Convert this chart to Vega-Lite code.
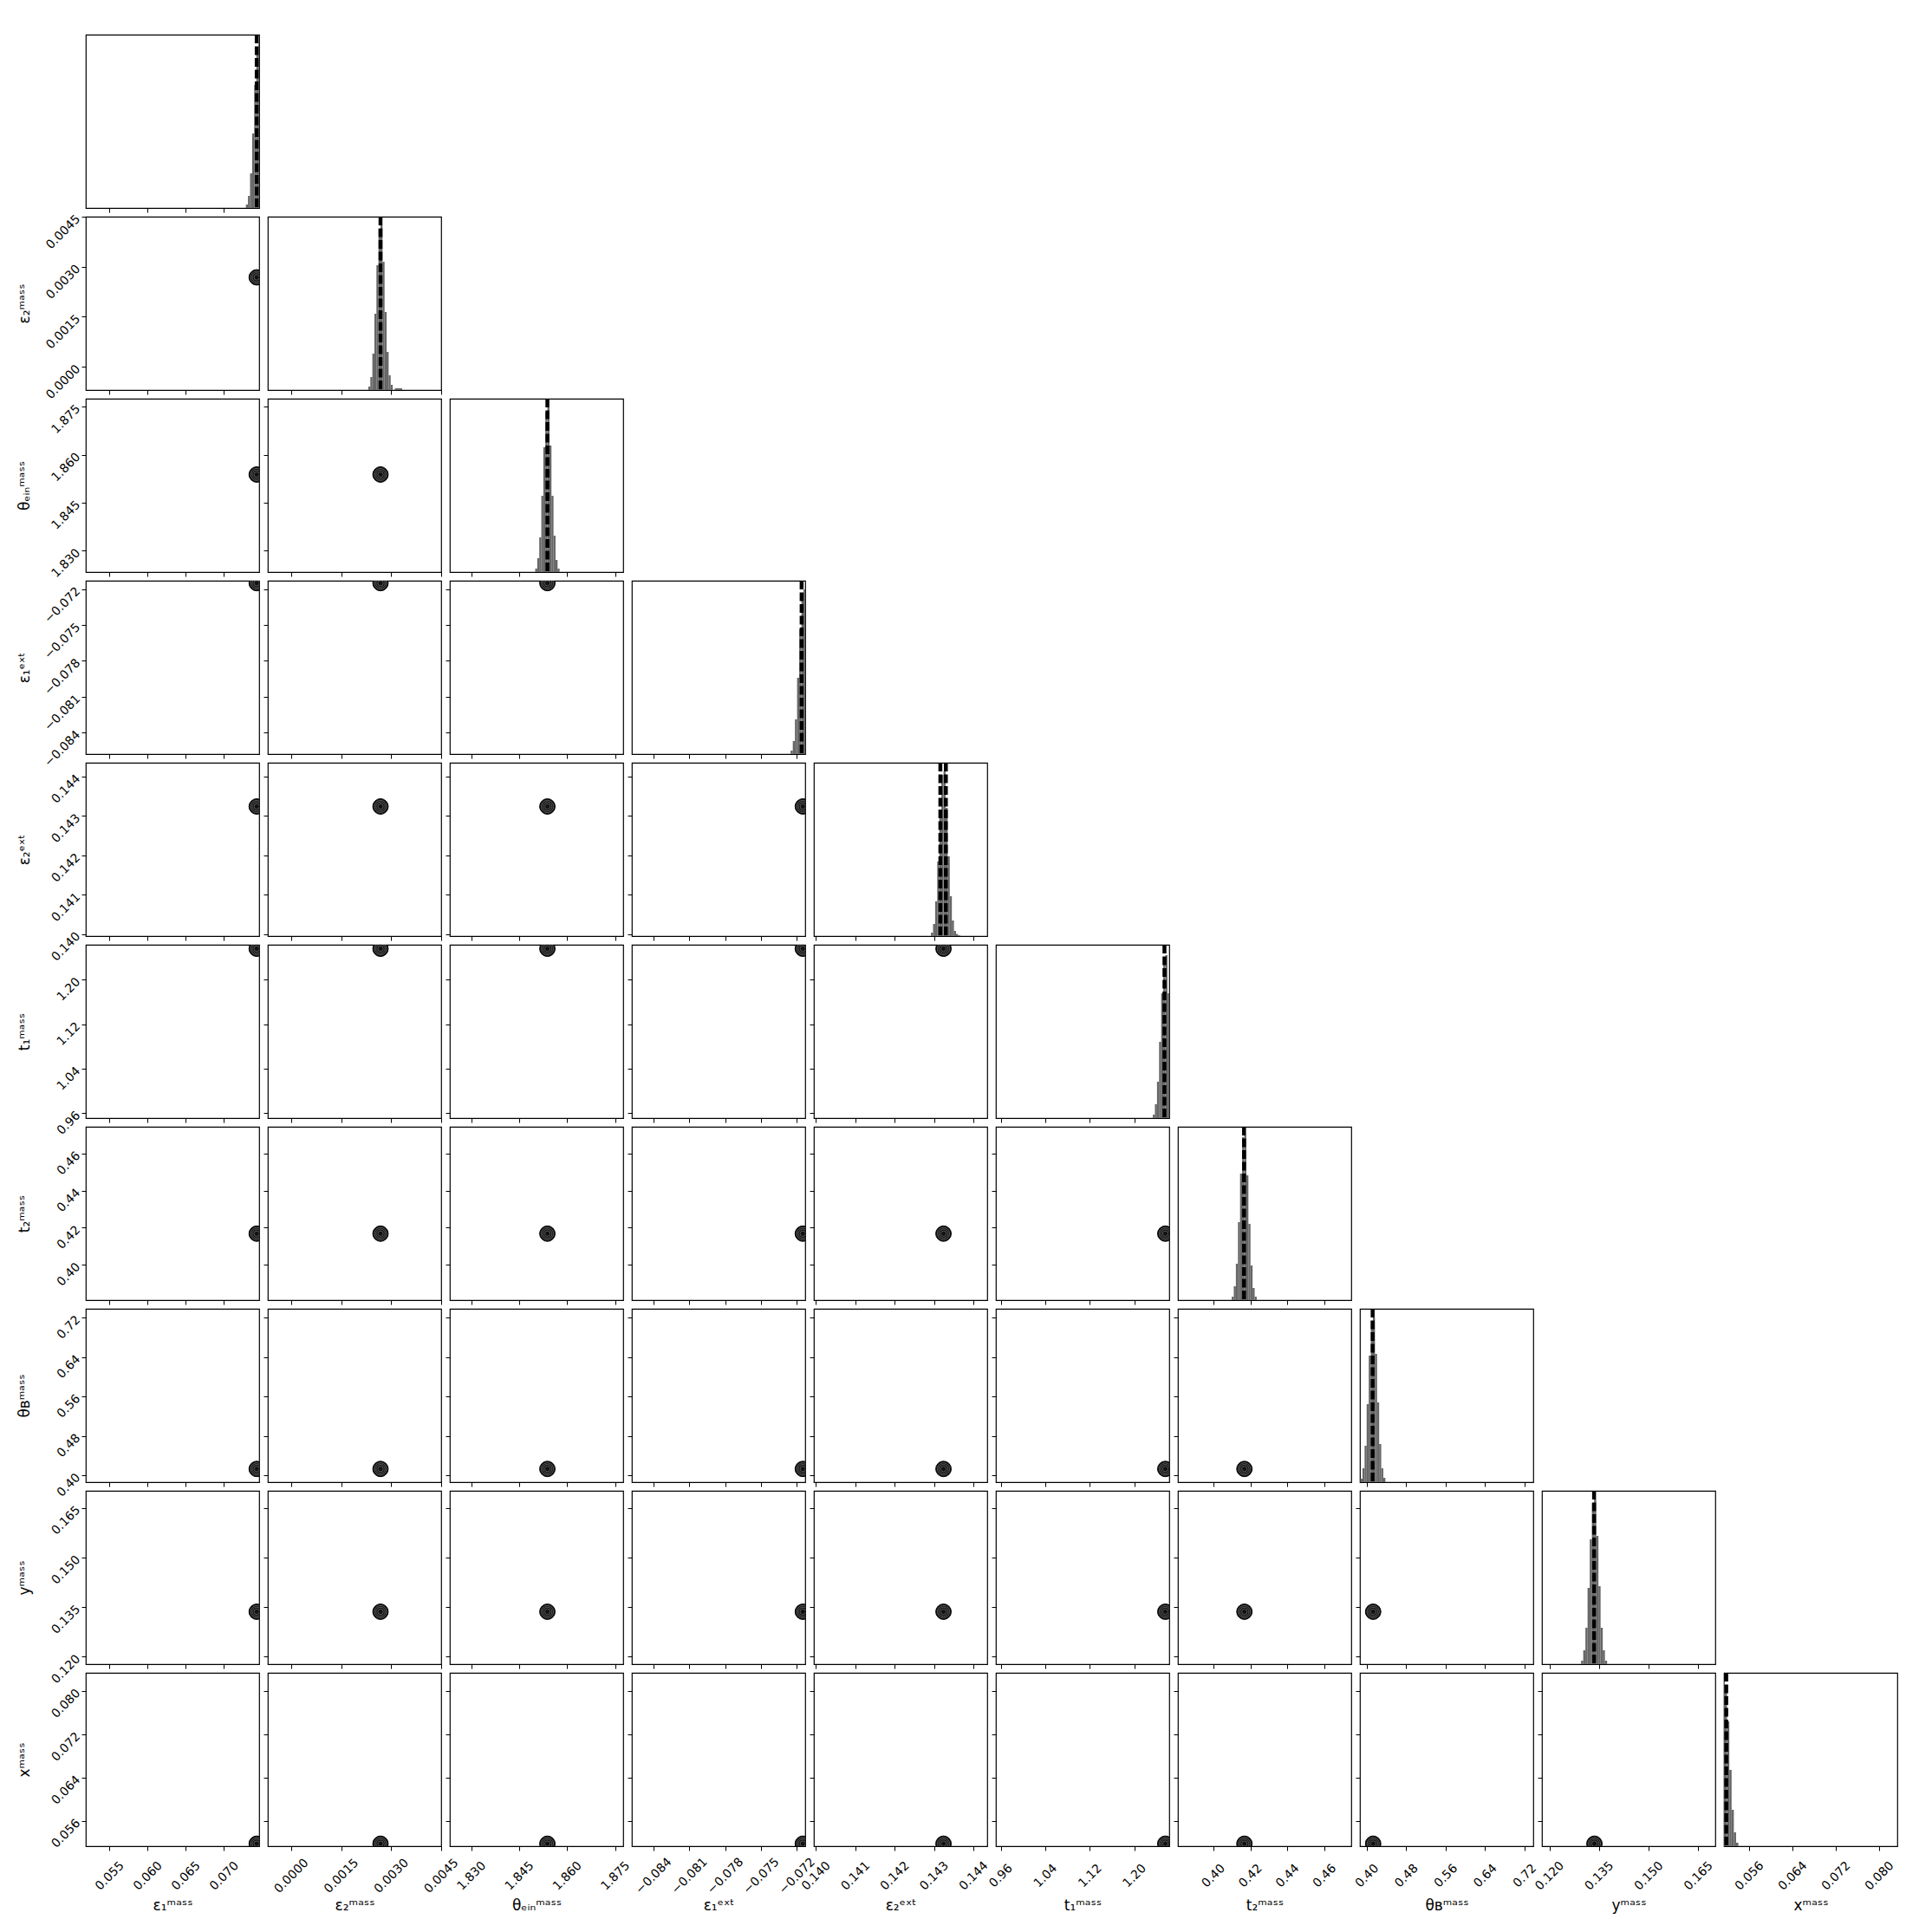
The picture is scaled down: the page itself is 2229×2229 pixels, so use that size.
{"$schema":"https://vega.github.io/schema/vega-lite/v6.json","background":"white","padding":{"left":18,"top":39,"right":5,"bottom":5},"bounds":"flush","spacing":10,"columns":10,
"datasets":{
"hist":[
{"p":"e1m","v":0.072862,"v2":0.073135,"h":0.02},{"p":"e1m","v":0.073135,"v2":0.073408,"h":0.07},{"p":"e1m","v":0.073408,"v2":0.073681,"h":0.2},{"p":"e1m","v":0.073681,"v2":0.073954,"h":0.43},{"p":"e1m","v":0.073954,"v2":0.074227,"h":0.71},{"p":"e1m","v":0.074227,"v2":0.0745,"h":0.92},{"p":"e1m","v":0.0745,"v2":0.074773,"h":0.95},
{"p":"e2m","v":0.002314,"v2":0.002375,"h":0.02},{"p":"e2m","v":0.002375,"v2":0.002436,"h":0.075},{"p":"e2m","v":0.002436,"v2":0.002497,"h":0.21},{"p":"e2m","v":0.002497,"v2":0.002558,"h":0.44},{"p":"e2m","v":0.002558,"v2":0.002619,"h":0.72},{"p":"e2m","v":0.002619,"v2":0.00268,"h":0.93},{"p":"e2m","v":0.00268,"v2":0.002741,"h":0.95},{"p":"e2m","v":0.002741,"v2":0.002802,"h":0.74},{"p":"e2m","v":0.002802,"v2":0.002863,"h":0.45},{"p":"e2m","v":0.002863,"v2":0.002924,"h":0.22},{"p":"e2m","v":0.002924,"v2":0.002985,"h":0.085},{"p":"e2m","v":0.002985,"v2":0.003046,"h":0.03},{"p":"e2m","v":0.00311,"v2":0.00333,"h":0.01},
{"p":"tein","v":1.84999,"v2":1.85063,"h":0.02},{"p":"tein","v":1.85063,"v2":1.85126,"h":0.08},{"p":"tein","v":1.85126,"v2":1.8519,"h":0.2},{"p":"tein","v":1.8519,"v2":1.85253,"h":0.44},{"p":"tein","v":1.85253,"v2":1.85317,"h":0.72},{"p":"tein","v":1.85317,"v2":1.8538,"h":0.92},{"p":"tein","v":1.8538,"v2":1.85444,"h":0.95},{"p":"tein","v":1.85444,"v2":1.85507,"h":0.73},{"p":"tein","v":1.85507,"v2":1.85571,"h":0.44},{"p":"tein","v":1.85571,"v2":1.85634,"h":0.21},{"p":"tein","v":1.85634,"v2":1.85698,"h":0.07},{"p":"tein","v":1.85698,"v2":1.85761,"h":0.02},
{"p":"e1e","v":-0.07252,"v2":-0.07234,"h":0.02},{"p":"e1e","v":-0.07234,"v2":-0.07216,"h":0.075},{"p":"e1e","v":-0.07216,"v2":-0.07198,"h":0.2},{"p":"e1e","v":-0.07198,"v2":-0.0718,"h":0.44},{"p":"e1e","v":-0.0718,"v2":-0.07162,"h":0.72},{"p":"e1e","v":-0.07162,"v2":-0.07144,"h":0.92},{"p":"e1e","v":-0.07144,"v2":-0.07126,"h":0.95},
{"p":"e2e","v":0.142922,"v2":0.142975,"h":0.02},{"p":"e2e","v":0.142975,"v2":0.143028,"h":0.07},{"p":"e2e","v":0.143028,"v2":0.143081,"h":0.2},{"p":"e2e","v":0.143081,"v2":0.143134,"h":0.43},{"p":"e2e","v":0.143134,"v2":0.143187,"h":0.72},{"p":"e2e","v":0.143187,"v2":0.14324,"h":0.93},{"p":"e2e","v":0.14324,"v2":0.143293,"h":0.95},{"p":"e2e","v":0.143293,"v2":0.143346,"h":0.74},{"p":"e2e","v":0.143346,"v2":0.143399,"h":0.46},{"p":"e2e","v":0.143399,"v2":0.143452,"h":0.23},{"p":"e2e","v":0.143452,"v2":0.143505,"h":0.09},{"p":"e2e","v":0.143505,"v2":0.143558,"h":0.03},{"p":"e2e","v":0.143558,"v2":0.143611,"h":0.012},{"p":"e2e","v":0.143611,"v2":0.143664,"h":0.005},
{"p":"t1m","v":1.2331,"v2":1.23685,"h":0.02},{"p":"t1m","v":1.23685,"v2":1.2406,"h":0.08},{"p":"t1m","v":1.2406,"v2":1.24435,"h":0.21},{"p":"t1m","v":1.24435,"v2":1.2481,"h":0.44},{"p":"t1m","v":1.2481,"v2":1.25185,"h":0.72},{"p":"t1m","v":1.25185,"v2":1.2556,"h":0.93},{"p":"t1m","v":1.2556,"v2":1.25935,"h":0.94},{"p":"t1m","v":1.25935,"v2":1.2631,"h":0.72},
{"p":"t2m","v":0.40995,"v2":0.411075,"h":0.02},{"p":"t2m","v":0.411075,"v2":0.4122,"h":0.08},{"p":"t2m","v":0.4122,"v2":0.413325,"h":0.21},{"p":"t2m","v":0.413325,"v2":0.41445,"h":0.45},{"p":"t2m","v":0.41445,"v2":0.415575,"h":0.73},{"p":"t2m","v":0.415575,"v2":0.4167,"h":0.94},{"p":"t2m","v":0.4167,"v2":0.417825,"h":0.95},{"p":"t2m","v":0.417825,"v2":0.41895,"h":0.72},{"p":"t2m","v":0.41895,"v2":0.420075,"h":0.44},{"p":"t2m","v":0.420075,"v2":0.4212,"h":0.2},{"p":"t2m","v":0.4212,"v2":0.422325,"h":0.07},{"p":"t2m","v":0.422325,"v2":0.42345,"h":0.02},
{"p":"thb","v":0.38718,"v2":0.3914,"h":0.02},{"p":"thb","v":0.3914,"v2":0.39562,"h":0.08},{"p":"thb","v":0.39562,"v2":0.39984,"h":0.21},{"p":"thb","v":0.39984,"v2":0.40406,"h":0.45},{"p":"thb","v":0.40406,"v2":0.40828,"h":0.73},{"p":"thb","v":0.40828,"v2":0.4125,"h":0.93},{"p":"thb","v":0.4125,"v2":0.41672,"h":0.95},{"p":"thb","v":0.41672,"v2":0.42094,"h":0.74},{"p":"thb","v":0.42094,"v2":0.42516,"h":0.46},{"p":"thb","v":0.42516,"v2":0.42938,"h":0.22},{"p":"thb","v":0.42938,"v2":0.4336,"h":0.08},{"p":"thb","v":0.4336,"v2":0.43782,"h":0.025},
{"p":"ym","v":0.12957,"v2":0.130225,"h":0.02},{"p":"ym","v":0.130225,"v2":0.13088,"h":0.08},{"p":"ym","v":0.13088,"v2":0.131535,"h":0.21},{"p":"ym","v":0.131535,"v2":0.13219,"h":0.44},{"p":"ym","v":0.13219,"v2":0.132845,"h":0.72},{"p":"ym","v":0.132845,"v2":0.1335,"h":0.93},{"p":"ym","v":0.1335,"v2":0.134155,"h":0.95},{"p":"ym","v":0.134155,"v2":0.13481,"h":0.74},{"p":"ym","v":0.13481,"v2":0.135465,"h":0.45},{"p":"ym","v":0.135465,"v2":0.13612,"h":0.21},{"p":"ym","v":0.13612,"v2":0.136775,"h":0.08},{"p":"ym","v":0.136775,"v2":0.13743,"h":0.02},
{"p":"xm","v":0.051085,"v2":0.0515,"h":0.95},{"p":"xm","v":0.0515,"v2":0.051915,"h":0.93},{"p":"xm","v":0.051915,"v2":0.05233,"h":0.72},{"p":"xm","v":0.05233,"v2":0.052745,"h":0.44},{"p":"xm","v":0.052745,"v2":0.05316,"h":0.21},{"p":"xm","v":0.05316,"v2":0.053575,"h":0.08},{"p":"xm","v":0.053575,"v2":0.05399,"h":0.02}
],
"truth":[{"p":"e1m","v":0.07428},{"p":"e2m","v":0.00268},{"p":"tein","v":1.8538},{"p":"e1e","v":-0.0716},{"p":"e2e","v":0.14316},{"p":"e2e","v":0.1433},{"p":"t1m","v":1.254},{"p":"t2m","v":0.4166},{"p":"thb","v":0.412},{"p":"ym","v":0.1335},{"p":"xm","v":0.05176}],
"ctr":[{"e1m":0.07428,"e2m":0.00268,"tein":1.8538,"e1e":-0.0715,"e2e":0.14324,"t1m":1.2555,"t2m":0.4168,"thb":0.413,"ym":0.1336,"xm":0.0518}]
},
"concat":[
{"width":200,"height":200,"encoding":{"x":{"field":"v","type":"quantitative","scale":{"domain":[0.0519,0.0746]},"axis":{"values":[0.055,0.06,0.065,0.07],"labels":false,"title":null}}},"layer":[{"data":{"name":"hist"},"transform":[{"filter":"datum.p==='e1m'"}],"mark":{"type":"rect","color":"#666666","clip":true},"encoding":{"x2":{"field":"v2"},"y":{"field":"h","type":"quantitative","scale":{"domain":[0,1]},"axis":null},"y2":{"datum":0}}},{"data":{"name":"truth"},"transform":[{"filter":"datum.p==='e1m'"}],"mark":{"type":"rule","color":"black","strokeWidth":4.5,"strokeDash":[10,3.5],"clip":true},"encoding":{}}]},
{"width":200,"height":200,"data":{"values":[]},"mark":"point","view":{"stroke":null}},
{"width":200,"height":200,"data":{"values":[]},"mark":"point","view":{"stroke":null}},
{"width":200,"height":200,"data":{"values":[]},"mark":"point","view":{"stroke":null}},
{"width":200,"height":200,"data":{"values":[]},"mark":"point","view":{"stroke":null}},
{"width":200,"height":200,"data":{"values":[]},"mark":"point","view":{"stroke":null}},
{"width":200,"height":200,"data":{"values":[]},"mark":"point","view":{"stroke":null}},
{"width":200,"height":200,"data":{"values":[]},"mark":"point","view":{"stroke":null}},
{"width":200,"height":200,"data":{"values":[]},"mark":"point","view":{"stroke":null}},
{"width":200,"height":200,"data":{"values":[]},"mark":"point","view":{"stroke":null}},

{"width":200,"height":200,"data":{"name":"ctr"},"encoding":{"x":{"field":"e1m","type":"quantitative","scale":{"domain":[0.0519,0.0746]},"axis":{"values":[0.055,0.06,0.065,0.07],"labels":false,"title":null}},"y":{"field":"e2m","type":"quantitative","scale":{"domain":[-0.0007,0.0045]},"axis":{"values":[0,0.0015,0.003,0.0045],"format":".4f","title":"ε₂ᵐᵃˢˢ"}}},"layer":[{"mark":{"type":"point","filled":true,"fill":"#111111","stroke":"#000000","strokeWidth":1,"size":320,"opacity":1,"clip":true}},{"mark":{"type":"point","filled":false,"stroke":"#777777","strokeWidth":0.7,"size":200,"opacity":1,"clip":true}},{"mark":{"type":"point","filled":false,"stroke":"#777777","strokeWidth":0.7,"size":110,"opacity":1,"clip":true}},{"mark":{"type":"point","filled":false,"stroke":"#777777","strokeWidth":0.7,"size":40,"opacity":1,"clip":true}}]},
{"width":200,"height":200,"encoding":{"x":{"field":"v","type":"quantitative","scale":{"domain":[-0.0007,0.0045]},"axis":{"values":[0,0.0015,0.003,0.0045],"labels":false,"title":null}}},"layer":[{"data":{"name":"hist"},"transform":[{"filter":"datum.p==='e2m'"}],"mark":{"type":"rect","color":"#666666","clip":true},"encoding":{"x2":{"field":"v2"},"y":{"field":"h","type":"quantitative","scale":{"domain":[0,1]},"axis":null},"y2":{"datum":0}}},{"data":{"name":"truth"},"transform":[{"filter":"datum.p==='e2m'"}],"mark":{"type":"rule","color":"black","strokeWidth":4.5,"strokeDash":[10,3.5],"clip":true},"encoding":{}}]},
{"width":200,"height":200,"data":{"values":[]},"mark":"point","view":{"stroke":null}},
{"width":200,"height":200,"data":{"values":[]},"mark":"point","view":{"stroke":null}},
{"width":200,"height":200,"data":{"values":[]},"mark":"point","view":{"stroke":null}},
{"width":200,"height":200,"data":{"values":[]},"mark":"point","view":{"stroke":null}},
{"width":200,"height":200,"data":{"values":[]},"mark":"point","view":{"stroke":null}},
{"width":200,"height":200,"data":{"values":[]},"mark":"point","view":{"stroke":null}},
{"width":200,"height":200,"data":{"values":[]},"mark":"point","view":{"stroke":null}},
{"width":200,"height":200,"data":{"values":[]},"mark":"point","view":{"stroke":null}},

{"width":200,"height":200,"data":{"name":"ctr"},"encoding":{"x":{"field":"e1m","type":"quantitative","scale":{"domain":[0.0519,0.0746]},"axis":{"values":[0.055,0.06,0.065,0.07],"labels":false,"title":null}},"y":{"field":"tein","type":"quantitative","scale":{"domain":[1.8233,1.8775]},"axis":{"values":[1.83,1.845,1.86,1.875],"format":".3f","title":"θₑᵢₙᵐᵃˢˢ"}}},"layer":[{"mark":{"type":"point","filled":true,"fill":"#111111","stroke":"#000000","strokeWidth":1,"size":320,"opacity":1,"clip":true}},{"mark":{"type":"point","filled":false,"stroke":"#777777","strokeWidth":0.7,"size":200,"opacity":1,"clip":true}},{"mark":{"type":"point","filled":false,"stroke":"#777777","strokeWidth":0.7,"size":110,"opacity":1,"clip":true}},{"mark":{"type":"point","filled":false,"stroke":"#777777","strokeWidth":0.7,"size":40,"opacity":1,"clip":true}}]},
{"width":200,"height":200,"data":{"name":"ctr"},"encoding":{"x":{"field":"e2m","type":"quantitative","scale":{"domain":[-0.0007,0.0045]},"axis":{"values":[0,0.0015,0.003,0.0045],"labels":false,"title":null}},"y":{"field":"tein","type":"quantitative","scale":{"domain":[1.8233,1.8775]},"axis":{"values":[1.83,1.845,1.86,1.875],"labels":false,"title":null}}},"layer":[{"mark":{"type":"point","filled":true,"fill":"#111111","stroke":"#000000","strokeWidth":1,"size":320,"opacity":1,"clip":true}},{"mark":{"type":"point","filled":false,"stroke":"#777777","strokeWidth":0.7,"size":200,"opacity":1,"clip":true}},{"mark":{"type":"point","filled":false,"stroke":"#777777","strokeWidth":0.7,"size":110,"opacity":1,"clip":true}},{"mark":{"type":"point","filled":false,"stroke":"#777777","strokeWidth":0.7,"size":40,"opacity":1,"clip":true}}]},
{"width":200,"height":200,"encoding":{"x":{"field":"v","type":"quantitative","scale":{"domain":[1.8233,1.8775]},"axis":{"values":[1.83,1.845,1.86,1.875],"labels":false,"title":null}}},"layer":[{"data":{"name":"hist"},"transform":[{"filter":"datum.p==='tein'"}],"mark":{"type":"rect","color":"#666666","clip":true},"encoding":{"x2":{"field":"v2"},"y":{"field":"h","type":"quantitative","scale":{"domain":[0,1]},"axis":null},"y2":{"datum":0}}},{"data":{"name":"truth"},"transform":[{"filter":"datum.p==='tein'"}],"mark":{"type":"rule","color":"black","strokeWidth":4.5,"strokeDash":[10,3.5],"clip":true},"encoding":{}}]},
{"width":200,"height":200,"data":{"values":[]},"mark":"point","view":{"stroke":null}},
{"width":200,"height":200,"data":{"values":[]},"mark":"point","view":{"stroke":null}},
{"width":200,"height":200,"data":{"values":[]},"mark":"point","view":{"stroke":null}},
{"width":200,"height":200,"data":{"values":[]},"mark":"point","view":{"stroke":null}},
{"width":200,"height":200,"data":{"values":[]},"mark":"point","view":{"stroke":null}},
{"width":200,"height":200,"data":{"values":[]},"mark":"point","view":{"stroke":null}},
{"width":200,"height":200,"data":{"values":[]},"mark":"point","view":{"stroke":null}},

{"width":200,"height":200,"data":{"name":"ctr"},"encoding":{"x":{"field":"e1m","type":"quantitative","scale":{"domain":[0.0519,0.0746]},"axis":{"values":[0.055,0.06,0.065,0.07],"labels":false,"title":null}},"y":{"field":"e1e","type":"quantitative","scale":{"domain":[-0.0858,-0.0713]},"axis":{"values":[-0.084,-0.081,-0.078,-0.075,-0.072],"format":".3f","title":"ε₁ᵉˣᵗ"}}},"layer":[{"mark":{"type":"point","filled":true,"fill":"#111111","stroke":"#000000","strokeWidth":1,"size":320,"opacity":1,"clip":true}},{"mark":{"type":"point","filled":false,"stroke":"#777777","strokeWidth":0.7,"size":200,"opacity":1,"clip":true}},{"mark":{"type":"point","filled":false,"stroke":"#777777","strokeWidth":0.7,"size":110,"opacity":1,"clip":true}},{"mark":{"type":"point","filled":false,"stroke":"#777777","strokeWidth":0.7,"size":40,"opacity":1,"clip":true}}]},
{"width":200,"height":200,"data":{"name":"ctr"},"encoding":{"x":{"field":"e2m","type":"quantitative","scale":{"domain":[-0.0007,0.0045]},"axis":{"values":[0,0.0015,0.003,0.0045],"labels":false,"title":null}},"y":{"field":"e1e","type":"quantitative","scale":{"domain":[-0.0858,-0.0713]},"axis":{"values":[-0.084,-0.081,-0.078,-0.075,-0.072],"labels":false,"title":null}}},"layer":[{"mark":{"type":"point","filled":true,"fill":"#111111","stroke":"#000000","strokeWidth":1,"size":320,"opacity":1,"clip":true}},{"mark":{"type":"point","filled":false,"stroke":"#777777","strokeWidth":0.7,"size":200,"opacity":1,"clip":true}},{"mark":{"type":"point","filled":false,"stroke":"#777777","strokeWidth":0.7,"size":110,"opacity":1,"clip":true}},{"mark":{"type":"point","filled":false,"stroke":"#777777","strokeWidth":0.7,"size":40,"opacity":1,"clip":true}}]},
{"width":200,"height":200,"data":{"name":"ctr"},"encoding":{"x":{"field":"tein","type":"quantitative","scale":{"domain":[1.8233,1.8775]},"axis":{"values":[1.83,1.845,1.86,1.875],"labels":false,"title":null}},"y":{"field":"e1e","type":"quantitative","scale":{"domain":[-0.0858,-0.0713]},"axis":{"values":[-0.084,-0.081,-0.078,-0.075,-0.072],"labels":false,"title":null}}},"layer":[{"mark":{"type":"point","filled":true,"fill":"#111111","stroke":"#000000","strokeWidth":1,"size":320,"opacity":1,"clip":true}},{"mark":{"type":"point","filled":false,"stroke":"#777777","strokeWidth":0.7,"size":200,"opacity":1,"clip":true}},{"mark":{"type":"point","filled":false,"stroke":"#777777","strokeWidth":0.7,"size":110,"opacity":1,"clip":true}},{"mark":{"type":"point","filled":false,"stroke":"#777777","strokeWidth":0.7,"size":40,"opacity":1,"clip":true}}]},
{"width":200,"height":200,"encoding":{"x":{"field":"v","type":"quantitative","scale":{"domain":[-0.0858,-0.0713]},"axis":{"values":[-0.084,-0.081,-0.078,-0.075,-0.072],"labels":false,"title":null}}},"layer":[{"data":{"name":"hist"},"transform":[{"filter":"datum.p==='e1e'"}],"mark":{"type":"rect","color":"#666666","clip":true},"encoding":{"x2":{"field":"v2"},"y":{"field":"h","type":"quantitative","scale":{"domain":[0,1]},"axis":null},"y2":{"datum":0}}},{"data":{"name":"truth"},"transform":[{"filter":"datum.p==='e1e'"}],"mark":{"type":"rule","color":"black","strokeWidth":4.5,"strokeDash":[10,3.5],"clip":true},"encoding":{}}]},
{"width":200,"height":200,"data":{"values":[]},"mark":"point","view":{"stroke":null}},
{"width":200,"height":200,"data":{"values":[]},"mark":"point","view":{"stroke":null}},
{"width":200,"height":200,"data":{"values":[]},"mark":"point","view":{"stroke":null}},
{"width":200,"height":200,"data":{"values":[]},"mark":"point","view":{"stroke":null}},
{"width":200,"height":200,"data":{"values":[]},"mark":"point","view":{"stroke":null}},
{"width":200,"height":200,"data":{"values":[]},"mark":"point","view":{"stroke":null}},

{"width":200,"height":200,"data":{"name":"ctr"},"encoding":{"x":{"field":"e1m","type":"quantitative","scale":{"domain":[0.0519,0.0746]},"axis":{"values":[0.055,0.06,0.065,0.07],"labels":false,"title":null}},"y":{"field":"e2e","type":"quantitative","scale":{"domain":[0.13995,0.14435]},"axis":{"values":[0.14,0.141,0.142,0.143,0.144],"format":".3f","title":"ε₂ᵉˣᵗ"}}},"layer":[{"mark":{"type":"point","filled":true,"fill":"#111111","stroke":"#000000","strokeWidth":1,"size":320,"opacity":1,"clip":true}},{"mark":{"type":"point","filled":false,"stroke":"#777777","strokeWidth":0.7,"size":200,"opacity":1,"clip":true}},{"mark":{"type":"point","filled":false,"stroke":"#777777","strokeWidth":0.7,"size":110,"opacity":1,"clip":true}},{"mark":{"type":"point","filled":false,"stroke":"#777777","strokeWidth":0.7,"size":40,"opacity":1,"clip":true}}]},
{"width":200,"height":200,"data":{"name":"ctr"},"encoding":{"x":{"field":"e2m","type":"quantitative","scale":{"domain":[-0.0007,0.0045]},"axis":{"values":[0,0.0015,0.003,0.0045],"labels":false,"title":null}},"y":{"field":"e2e","type":"quantitative","scale":{"domain":[0.13995,0.14435]},"axis":{"values":[0.14,0.141,0.142,0.143,0.144],"labels":false,"title":null}}},"layer":[{"mark":{"type":"point","filled":true,"fill":"#111111","stroke":"#000000","strokeWidth":1,"size":320,"opacity":1,"clip":true}},{"mark":{"type":"point","filled":false,"stroke":"#777777","strokeWidth":0.7,"size":200,"opacity":1,"clip":true}},{"mark":{"type":"point","filled":false,"stroke":"#777777","strokeWidth":0.7,"size":110,"opacity":1,"clip":true}},{"mark":{"type":"point","filled":false,"stroke":"#777777","strokeWidth":0.7,"size":40,"opacity":1,"clip":true}}]},
{"width":200,"height":200,"data":{"name":"ctr"},"encoding":{"x":{"field":"tein","type":"quantitative","scale":{"domain":[1.8233,1.8775]},"axis":{"values":[1.83,1.845,1.86,1.875],"labels":false,"title":null}},"y":{"field":"e2e","type":"quantitative","scale":{"domain":[0.13995,0.14435]},"axis":{"values":[0.14,0.141,0.142,0.143,0.144],"labels":false,"title":null}}},"layer":[{"mark":{"type":"point","filled":true,"fill":"#111111","stroke":"#000000","strokeWidth":1,"size":320,"opacity":1,"clip":true}},{"mark":{"type":"point","filled":false,"stroke":"#777777","strokeWidth":0.7,"size":200,"opacity":1,"clip":true}},{"mark":{"type":"point","filled":false,"stroke":"#777777","strokeWidth":0.7,"size":110,"opacity":1,"clip":true}},{"mark":{"type":"point","filled":false,"stroke":"#777777","strokeWidth":0.7,"size":40,"opacity":1,"clip":true}}]},
{"width":200,"height":200,"data":{"name":"ctr"},"encoding":{"x":{"field":"e1e","type":"quantitative","scale":{"domain":[-0.0858,-0.0713]},"axis":{"values":[-0.084,-0.081,-0.078,-0.075,-0.072],"labels":false,"title":null}},"y":{"field":"e2e","type":"quantitative","scale":{"domain":[0.13995,0.14435]},"axis":{"values":[0.14,0.141,0.142,0.143,0.144],"labels":false,"title":null}}},"layer":[{"mark":{"type":"point","filled":true,"fill":"#111111","stroke":"#000000","strokeWidth":1,"size":320,"opacity":1,"clip":true}},{"mark":{"type":"point","filled":false,"stroke":"#777777","strokeWidth":0.7,"size":200,"opacity":1,"clip":true}},{"mark":{"type":"point","filled":false,"stroke":"#777777","strokeWidth":0.7,"size":110,"opacity":1,"clip":true}},{"mark":{"type":"point","filled":false,"stroke":"#777777","strokeWidth":0.7,"size":40,"opacity":1,"clip":true}}]},
{"width":200,"height":200,"encoding":{"x":{"field":"v","type":"quantitative","scale":{"domain":[0.13995,0.14435]},"axis":{"values":[0.14,0.141,0.142,0.143,0.144],"labels":false,"title":null}}},"layer":[{"data":{"name":"hist"},"transform":[{"filter":"datum.p==='e2e'"}],"mark":{"type":"rect","color":"#666666","clip":true},"encoding":{"x2":{"field":"v2"},"y":{"field":"h","type":"quantitative","scale":{"domain":[0,1]},"axis":null},"y2":{"datum":0}}},{"data":{"name":"truth"},"transform":[{"filter":"datum.p==='e2e'"}],"mark":{"type":"rule","color":"black","strokeWidth":4.5,"strokeDash":[10,3.5],"clip":true},"encoding":{}}]},
{"width":200,"height":200,"data":{"values":[]},"mark":"point","view":{"stroke":null}},
{"width":200,"height":200,"data":{"values":[]},"mark":"point","view":{"stroke":null}},
{"width":200,"height":200,"data":{"values":[]},"mark":"point","view":{"stroke":null}},
{"width":200,"height":200,"data":{"values":[]},"mark":"point","view":{"stroke":null}},
{"width":200,"height":200,"data":{"values":[]},"mark":"point","view":{"stroke":null}},

{"width":200,"height":200,"data":{"name":"ctr"},"encoding":{"x":{"field":"e1m","type":"quantitative","scale":{"domain":[0.0519,0.0746]},"axis":{"values":[0.055,0.06,0.065,0.07],"labels":false,"title":null}},"y":{"field":"t1m","type":"quantitative","scale":{"domain":[0.9514,1.2626]},"axis":{"values":[0.96,1.04,1.12,1.2],"format":".2f","title":"t₁ᵐᵃˢˢ"}}},"layer":[{"mark":{"type":"point","filled":true,"fill":"#111111","stroke":"#000000","strokeWidth":1,"size":320,"opacity":1,"clip":true}},{"mark":{"type":"point","filled":false,"stroke":"#777777","strokeWidth":0.7,"size":200,"opacity":1,"clip":true}},{"mark":{"type":"point","filled":false,"stroke":"#777777","strokeWidth":0.7,"size":110,"opacity":1,"clip":true}},{"mark":{"type":"point","filled":false,"stroke":"#777777","strokeWidth":0.7,"size":40,"opacity":1,"clip":true}}]},
{"width":200,"height":200,"data":{"name":"ctr"},"encoding":{"x":{"field":"e2m","type":"quantitative","scale":{"domain":[-0.0007,0.0045]},"axis":{"values":[0,0.0015,0.003,0.0045],"labels":false,"title":null}},"y":{"field":"t1m","type":"quantitative","scale":{"domain":[0.9514,1.2626]},"axis":{"values":[0.96,1.04,1.12,1.2],"labels":false,"title":null}}},"layer":[{"mark":{"type":"point","filled":true,"fill":"#111111","stroke":"#000000","strokeWidth":1,"size":320,"opacity":1,"clip":true}},{"mark":{"type":"point","filled":false,"stroke":"#777777","strokeWidth":0.7,"size":200,"opacity":1,"clip":true}},{"mark":{"type":"point","filled":false,"stroke":"#777777","strokeWidth":0.7,"size":110,"opacity":1,"clip":true}},{"mark":{"type":"point","filled":false,"stroke":"#777777","strokeWidth":0.7,"size":40,"opacity":1,"clip":true}}]},
{"width":200,"height":200,"data":{"name":"ctr"},"encoding":{"x":{"field":"tein","type":"quantitative","scale":{"domain":[1.8233,1.8775]},"axis":{"values":[1.83,1.845,1.86,1.875],"labels":false,"title":null}},"y":{"field":"t1m","type":"quantitative","scale":{"domain":[0.9514,1.2626]},"axis":{"values":[0.96,1.04,1.12,1.2],"labels":false,"title":null}}},"layer":[{"mark":{"type":"point","filled":true,"fill":"#111111","stroke":"#000000","strokeWidth":1,"size":320,"opacity":1,"clip":true}},{"mark":{"type":"point","filled":false,"stroke":"#777777","strokeWidth":0.7,"size":200,"opacity":1,"clip":true}},{"mark":{"type":"point","filled":false,"stroke":"#777777","strokeWidth":0.7,"size":110,"opacity":1,"clip":true}},{"mark":{"type":"point","filled":false,"stroke":"#777777","strokeWidth":0.7,"size":40,"opacity":1,"clip":true}}]},
{"width":200,"height":200,"data":{"name":"ctr"},"encoding":{"x":{"field":"e1e","type":"quantitative","scale":{"domain":[-0.0858,-0.0713]},"axis":{"values":[-0.084,-0.081,-0.078,-0.075,-0.072],"labels":false,"title":null}},"y":{"field":"t1m","type":"quantitative","scale":{"domain":[0.9514,1.2626]},"axis":{"values":[0.96,1.04,1.12,1.2],"labels":false,"title":null}}},"layer":[{"mark":{"type":"point","filled":true,"fill":"#111111","stroke":"#000000","strokeWidth":1,"size":320,"opacity":1,"clip":true}},{"mark":{"type":"point","filled":false,"stroke":"#777777","strokeWidth":0.7,"size":200,"opacity":1,"clip":true}},{"mark":{"type":"point","filled":false,"stroke":"#777777","strokeWidth":0.7,"size":110,"opacity":1,"clip":true}},{"mark":{"type":"point","filled":false,"stroke":"#777777","strokeWidth":0.7,"size":40,"opacity":1,"clip":true}}]},
{"width":200,"height":200,"data":{"name":"ctr"},"encoding":{"x":{"field":"e2e","type":"quantitative","scale":{"domain":[0.13995,0.14435]},"axis":{"values":[0.14,0.141,0.142,0.143,0.144],"labels":false,"title":null}},"y":{"field":"t1m","type":"quantitative","scale":{"domain":[0.9514,1.2626]},"axis":{"values":[0.96,1.04,1.12,1.2],"labels":false,"title":null}}},"layer":[{"mark":{"type":"point","filled":true,"fill":"#111111","stroke":"#000000","strokeWidth":1,"size":320,"opacity":1,"clip":true}},{"mark":{"type":"point","filled":false,"stroke":"#777777","strokeWidth":0.7,"size":200,"opacity":1,"clip":true}},{"mark":{"type":"point","filled":false,"stroke":"#777777","strokeWidth":0.7,"size":110,"opacity":1,"clip":true}},{"mark":{"type":"point","filled":false,"stroke":"#777777","strokeWidth":0.7,"size":40,"opacity":1,"clip":true}}]},
{"width":200,"height":200,"encoding":{"x":{"field":"v","type":"quantitative","scale":{"domain":[0.9514,1.2626]},"axis":{"values":[0.96,1.04,1.12,1.2],"labels":false,"title":null}}},"layer":[{"data":{"name":"hist"},"transform":[{"filter":"datum.p==='t1m'"}],"mark":{"type":"rect","color":"#666666","clip":true},"encoding":{"x2":{"field":"v2"},"y":{"field":"h","type":"quantitative","scale":{"domain":[0,1]},"axis":null},"y2":{"datum":0}}},{"data":{"name":"truth"},"transform":[{"filter":"datum.p==='t1m'"}],"mark":{"type":"rule","color":"black","strokeWidth":4.5,"strokeDash":[10,3.5],"clip":true},"encoding":{}}]},
{"width":200,"height":200,"data":{"values":[]},"mark":"point","view":{"stroke":null}},
{"width":200,"height":200,"data":{"values":[]},"mark":"point","view":{"stroke":null}},
{"width":200,"height":200,"data":{"values":[]},"mark":"point","view":{"stroke":null}},
{"width":200,"height":200,"data":{"values":[]},"mark":"point","view":{"stroke":null}},

{"width":200,"height":200,"data":{"name":"ctr"},"encoding":{"x":{"field":"e1m","type":"quantitative","scale":{"domain":[0.0519,0.0746]},"axis":{"values":[0.055,0.06,0.065,0.07],"labels":false,"title":null}},"y":{"field":"t2m","type":"quantitative","scale":{"domain":[0.3809,0.4745]},"axis":{"values":[0.4,0.42,0.44,0.46],"format":".2f","title":"t₂ᵐᵃˢˢ"}}},"layer":[{"mark":{"type":"point","filled":true,"fill":"#111111","stroke":"#000000","strokeWidth":1,"size":320,"opacity":1,"clip":true}},{"mark":{"type":"point","filled":false,"stroke":"#777777","strokeWidth":0.7,"size":200,"opacity":1,"clip":true}},{"mark":{"type":"point","filled":false,"stroke":"#777777","strokeWidth":0.7,"size":110,"opacity":1,"clip":true}},{"mark":{"type":"point","filled":false,"stroke":"#777777","strokeWidth":0.7,"size":40,"opacity":1,"clip":true}}]},
{"width":200,"height":200,"data":{"name":"ctr"},"encoding":{"x":{"field":"e2m","type":"quantitative","scale":{"domain":[-0.0007,0.0045]},"axis":{"values":[0,0.0015,0.003,0.0045],"labels":false,"title":null}},"y":{"field":"t2m","type":"quantitative","scale":{"domain":[0.3809,0.4745]},"axis":{"values":[0.4,0.42,0.44,0.46],"labels":false,"title":null}}},"layer":[{"mark":{"type":"point","filled":true,"fill":"#111111","stroke":"#000000","strokeWidth":1,"size":320,"opacity":1,"clip":true}},{"mark":{"type":"point","filled":false,"stroke":"#777777","strokeWidth":0.7,"size":200,"opacity":1,"clip":true}},{"mark":{"type":"point","filled":false,"stroke":"#777777","strokeWidth":0.7,"size":110,"opacity":1,"clip":true}},{"mark":{"type":"point","filled":false,"stroke":"#777777","strokeWidth":0.7,"size":40,"opacity":1,"clip":true}}]},
{"width":200,"height":200,"data":{"name":"ctr"},"encoding":{"x":{"field":"tein","type":"quantitative","scale":{"domain":[1.8233,1.8775]},"axis":{"values":[1.83,1.845,1.86,1.875],"labels":false,"title":null}},"y":{"field":"t2m","type":"quantitative","scale":{"domain":[0.3809,0.4745]},"axis":{"values":[0.4,0.42,0.44,0.46],"labels":false,"title":null}}},"layer":[{"mark":{"type":"point","filled":true,"fill":"#111111","stroke":"#000000","strokeWidth":1,"size":320,"opacity":1,"clip":true}},{"mark":{"type":"point","filled":false,"stroke":"#777777","strokeWidth":0.7,"size":200,"opacity":1,"clip":true}},{"mark":{"type":"point","filled":false,"stroke":"#777777","strokeWidth":0.7,"size":110,"opacity":1,"clip":true}},{"mark":{"type":"point","filled":false,"stroke":"#777777","strokeWidth":0.7,"size":40,"opacity":1,"clip":true}}]},
{"width":200,"height":200,"data":{"name":"ctr"},"encoding":{"x":{"field":"e1e","type":"quantitative","scale":{"domain":[-0.0858,-0.0713]},"axis":{"values":[-0.084,-0.081,-0.078,-0.075,-0.072],"labels":false,"title":null}},"y":{"field":"t2m","type":"quantitative","scale":{"domain":[0.3809,0.4745]},"axis":{"values":[0.4,0.42,0.44,0.46],"labels":false,"title":null}}},"layer":[{"mark":{"type":"point","filled":true,"fill":"#111111","stroke":"#000000","strokeWidth":1,"size":320,"opacity":1,"clip":true}},{"mark":{"type":"point","filled":false,"stroke":"#777777","strokeWidth":0.7,"size":200,"opacity":1,"clip":true}},{"mark":{"type":"point","filled":false,"stroke":"#777777","strokeWidth":0.7,"size":110,"opacity":1,"clip":true}},{"mark":{"type":"point","filled":false,"stroke":"#777777","strokeWidth":0.7,"size":40,"opacity":1,"clip":true}}]},
{"width":200,"height":200,"data":{"name":"ctr"},"encoding":{"x":{"field":"e2e","type":"quantitative","scale":{"domain":[0.13995,0.14435]},"axis":{"values":[0.14,0.141,0.142,0.143,0.144],"labels":false,"title":null}},"y":{"field":"t2m","type":"quantitative","scale":{"domain":[0.3809,0.4745]},"axis":{"values":[0.4,0.42,0.44,0.46],"labels":false,"title":null}}},"layer":[{"mark":{"type":"point","filled":true,"fill":"#111111","stroke":"#000000","strokeWidth":1,"size":320,"opacity":1,"clip":true}},{"mark":{"type":"point","filled":false,"stroke":"#777777","strokeWidth":0.7,"size":200,"opacity":1,"clip":true}},{"mark":{"type":"point","filled":false,"stroke":"#777777","strokeWidth":0.7,"size":110,"opacity":1,"clip":true}},{"mark":{"type":"point","filled":false,"stroke":"#777777","strokeWidth":0.7,"size":40,"opacity":1,"clip":true}}]},
{"width":200,"height":200,"data":{"name":"ctr"},"encoding":{"x":{"field":"t1m","type":"quantitative","scale":{"domain":[0.9514,1.2626]},"axis":{"values":[0.96,1.04,1.12,1.2],"labels":false,"title":null}},"y":{"field":"t2m","type":"quantitative","scale":{"domain":[0.3809,0.4745]},"axis":{"values":[0.4,0.42,0.44,0.46],"labels":false,"title":null}}},"layer":[{"mark":{"type":"point","filled":true,"fill":"#111111","stroke":"#000000","strokeWidth":1,"size":320,"opacity":1,"clip":true}},{"mark":{"type":"point","filled":false,"stroke":"#777777","strokeWidth":0.7,"size":200,"opacity":1,"clip":true}},{"mark":{"type":"point","filled":false,"stroke":"#777777","strokeWidth":0.7,"size":110,"opacity":1,"clip":true}},{"mark":{"type":"point","filled":false,"stroke":"#777777","strokeWidth":0.7,"size":40,"opacity":1,"clip":true}}]},
{"width":200,"height":200,"encoding":{"x":{"field":"v","type":"quantitative","scale":{"domain":[0.3809,0.4745]},"axis":{"values":[0.4,0.42,0.44,0.46],"labels":false,"title":null}}},"layer":[{"data":{"name":"hist"},"transform":[{"filter":"datum.p==='t2m'"}],"mark":{"type":"rect","color":"#666666","clip":true},"encoding":{"x2":{"field":"v2"},"y":{"field":"h","type":"quantitative","scale":{"domain":[0,1]},"axis":null},"y2":{"datum":0}}},{"data":{"name":"truth"},"transform":[{"filter":"datum.p==='t2m'"}],"mark":{"type":"rule","color":"black","strokeWidth":4.5,"strokeDash":[10,3.5],"clip":true},"encoding":{}}]},
{"width":200,"height":200,"data":{"values":[]},"mark":"point","view":{"stroke":null}},
{"width":200,"height":200,"data":{"values":[]},"mark":"point","view":{"stroke":null}},
{"width":200,"height":200,"data":{"values":[]},"mark":"point","view":{"stroke":null}},

{"width":200,"height":200,"data":{"name":"ctr"},"encoding":{"x":{"field":"e1m","type":"quantitative","scale":{"domain":[0.0519,0.0746]},"axis":{"values":[0.055,0.06,0.065,0.07],"labels":false,"title":null}},"y":{"field":"thb","type":"quantitative","scale":{"domain":[0.3862,0.7378]},"axis":{"values":[0.4,0.48,0.56,0.64,0.72],"format":".2f","title":"θʙᵐᵃˢˢ"}}},"layer":[{"mark":{"type":"point","filled":true,"fill":"#111111","stroke":"#000000","strokeWidth":1,"size":320,"opacity":1,"clip":true}},{"mark":{"type":"point","filled":false,"stroke":"#777777","strokeWidth":0.7,"size":200,"opacity":1,"clip":true}},{"mark":{"type":"point","filled":false,"stroke":"#777777","strokeWidth":0.7,"size":110,"opacity":1,"clip":true}},{"mark":{"type":"point","filled":false,"stroke":"#777777","strokeWidth":0.7,"size":40,"opacity":1,"clip":true}}]},
{"width":200,"height":200,"data":{"name":"ctr"},"encoding":{"x":{"field":"e2m","type":"quantitative","scale":{"domain":[-0.0007,0.0045]},"axis":{"values":[0,0.0015,0.003,0.0045],"labels":false,"title":null}},"y":{"field":"thb","type":"quantitative","scale":{"domain":[0.3862,0.7378]},"axis":{"values":[0.4,0.48,0.56,0.64,0.72],"labels":false,"title":null}}},"layer":[{"mark":{"type":"point","filled":true,"fill":"#111111","stroke":"#000000","strokeWidth":1,"size":320,"opacity":1,"clip":true}},{"mark":{"type":"point","filled":false,"stroke":"#777777","strokeWidth":0.7,"size":200,"opacity":1,"clip":true}},{"mark":{"type":"point","filled":false,"stroke":"#777777","strokeWidth":0.7,"size":110,"opacity":1,"clip":true}},{"mark":{"type":"point","filled":false,"stroke":"#777777","strokeWidth":0.7,"size":40,"opacity":1,"clip":true}}]},
{"width":200,"height":200,"data":{"name":"ctr"},"encoding":{"x":{"field":"tein","type":"quantitative","scale":{"domain":[1.8233,1.8775]},"axis":{"values":[1.83,1.845,1.86,1.875],"labels":false,"title":null}},"y":{"field":"thb","type":"quantitative","scale":{"domain":[0.3862,0.7378]},"axis":{"values":[0.4,0.48,0.56,0.64,0.72],"labels":false,"title":null}}},"layer":[{"mark":{"type":"point","filled":true,"fill":"#111111","stroke":"#000000","strokeWidth":1,"size":320,"opacity":1,"clip":true}},{"mark":{"type":"point","filled":false,"stroke":"#777777","strokeWidth":0.7,"size":200,"opacity":1,"clip":true}},{"mark":{"type":"point","filled":false,"stroke":"#777777","strokeWidth":0.7,"size":110,"opacity":1,"clip":true}},{"mark":{"type":"point","filled":false,"stroke":"#777777","strokeWidth":0.7,"size":40,"opacity":1,"clip":true}}]},
{"width":200,"height":200,"data":{"name":"ctr"},"encoding":{"x":{"field":"e1e","type":"quantitative","scale":{"domain":[-0.0858,-0.0713]},"axis":{"values":[-0.084,-0.081,-0.078,-0.075,-0.072],"labels":false,"title":null}},"y":{"field":"thb","type":"quantitative","scale":{"domain":[0.3862,0.7378]},"axis":{"values":[0.4,0.48,0.56,0.64,0.72],"labels":false,"title":null}}},"layer":[{"mark":{"type":"point","filled":true,"fill":"#111111","stroke":"#000000","strokeWidth":1,"size":320,"opacity":1,"clip":true}},{"mark":{"type":"point","filled":false,"stroke":"#777777","strokeWidth":0.7,"size":200,"opacity":1,"clip":true}},{"mark":{"type":"point","filled":false,"stroke":"#777777","strokeWidth":0.7,"size":110,"opacity":1,"clip":true}},{"mark":{"type":"point","filled":false,"stroke":"#777777","strokeWidth":0.7,"size":40,"opacity":1,"clip":true}}]},
{"width":200,"height":200,"data":{"name":"ctr"},"encoding":{"x":{"field":"e2e","type":"quantitative","scale":{"domain":[0.13995,0.14435]},"axis":{"values":[0.14,0.141,0.142,0.143,0.144],"labels":false,"title":null}},"y":{"field":"thb","type":"quantitative","scale":{"domain":[0.3862,0.7378]},"axis":{"values":[0.4,0.48,0.56,0.64,0.72],"labels":false,"title":null}}},"layer":[{"mark":{"type":"point","filled":true,"fill":"#111111","stroke":"#000000","strokeWidth":1,"size":320,"opacity":1,"clip":true}},{"mark":{"type":"point","filled":false,"stroke":"#777777","strokeWidth":0.7,"size":200,"opacity":1,"clip":true}},{"mark":{"type":"point","filled":false,"stroke":"#777777","strokeWidth":0.7,"size":110,"opacity":1,"clip":true}},{"mark":{"type":"point","filled":false,"stroke":"#777777","strokeWidth":0.7,"size":40,"opacity":1,"clip":true}}]},
{"width":200,"height":200,"data":{"name":"ctr"},"encoding":{"x":{"field":"t1m","type":"quantitative","scale":{"domain":[0.9514,1.2626]},"axis":{"values":[0.96,1.04,1.12,1.2],"labels":false,"title":null}},"y":{"field":"thb","type":"quantitative","scale":{"domain":[0.3862,0.7378]},"axis":{"values":[0.4,0.48,0.56,0.64,0.72],"labels":false,"title":null}}},"layer":[{"mark":{"type":"point","filled":true,"fill":"#111111","stroke":"#000000","strokeWidth":1,"size":320,"opacity":1,"clip":true}},{"mark":{"type":"point","filled":false,"stroke":"#777777","strokeWidth":0.7,"size":200,"opacity":1,"clip":true}},{"mark":{"type":"point","filled":false,"stroke":"#777777","strokeWidth":0.7,"size":110,"opacity":1,"clip":true}},{"mark":{"type":"point","filled":false,"stroke":"#777777","strokeWidth":0.7,"size":40,"opacity":1,"clip":true}}]},
{"width":200,"height":200,"data":{"name":"ctr"},"encoding":{"x":{"field":"t2m","type":"quantitative","scale":{"domain":[0.3809,0.4745]},"axis":{"values":[0.4,0.42,0.44,0.46],"labels":false,"title":null}},"y":{"field":"thb","type":"quantitative","scale":{"domain":[0.3862,0.7378]},"axis":{"values":[0.4,0.48,0.56,0.64,0.72],"labels":false,"title":null}}},"layer":[{"mark":{"type":"point","filled":true,"fill":"#111111","stroke":"#000000","strokeWidth":1,"size":320,"opacity":1,"clip":true}},{"mark":{"type":"point","filled":false,"stroke":"#777777","strokeWidth":0.7,"size":200,"opacity":1,"clip":true}},{"mark":{"type":"point","filled":false,"stroke":"#777777","strokeWidth":0.7,"size":110,"opacity":1,"clip":true}},{"mark":{"type":"point","filled":false,"stroke":"#777777","strokeWidth":0.7,"size":40,"opacity":1,"clip":true}}]},
{"width":200,"height":200,"encoding":{"x":{"field":"v","type":"quantitative","scale":{"domain":[0.3862,0.7378]},"axis":{"values":[0.4,0.48,0.56,0.64,0.72],"labels":false,"title":null}}},"layer":[{"data":{"name":"hist"},"transform":[{"filter":"datum.p==='thb'"}],"mark":{"type":"rect","color":"#666666","clip":true},"encoding":{"x2":{"field":"v2"},"y":{"field":"h","type":"quantitative","scale":{"domain":[0,1]},"axis":null},"y2":{"datum":0}}},{"data":{"name":"truth"},"transform":[{"filter":"datum.p==='thb'"}],"mark":{"type":"rule","color":"black","strokeWidth":4.5,"strokeDash":[10,3.5],"clip":true},"encoding":{}}]},
{"width":200,"height":200,"data":{"values":[]},"mark":"point","view":{"stroke":null}},
{"width":200,"height":200,"data":{"values":[]},"mark":"point","view":{"stroke":null}},

{"width":200,"height":200,"data":{"name":"ctr"},"encoding":{"x":{"field":"e1m","type":"quantitative","scale":{"domain":[0.0519,0.0746]},"axis":{"values":[0.055,0.06,0.065,0.07],"labels":false,"title":null}},"y":{"field":"ym","type":"quantitative","scale":{"domain":[0.11775,0.17013]},"axis":{"values":[0.12,0.135,0.15,0.165],"format":".3f","title":"yᵐᵃˢˢ"}}},"layer":[{"mark":{"type":"point","filled":true,"fill":"#111111","stroke":"#000000","strokeWidth":1,"size":320,"opacity":1,"clip":true}},{"mark":{"type":"point","filled":false,"stroke":"#777777","strokeWidth":0.7,"size":200,"opacity":1,"clip":true}},{"mark":{"type":"point","filled":false,"stroke":"#777777","strokeWidth":0.7,"size":110,"opacity":1,"clip":true}},{"mark":{"type":"point","filled":false,"stroke":"#777777","strokeWidth":0.7,"size":40,"opacity":1,"clip":true}}]},
{"width":200,"height":200,"data":{"name":"ctr"},"encoding":{"x":{"field":"e2m","type":"quantitative","scale":{"domain":[-0.0007,0.0045]},"axis":{"values":[0,0.0015,0.003,0.0045],"labels":false,"title":null}},"y":{"field":"ym","type":"quantitative","scale":{"domain":[0.11775,0.17013]},"axis":{"values":[0.12,0.135,0.15,0.165],"labels":false,"title":null}}},"layer":[{"mark":{"type":"point","filled":true,"fill":"#111111","stroke":"#000000","strokeWidth":1,"size":320,"opacity":1,"clip":true}},{"mark":{"type":"point","filled":false,"stroke":"#777777","strokeWidth":0.7,"size":200,"opacity":1,"clip":true}},{"mark":{"type":"point","filled":false,"stroke":"#777777","strokeWidth":0.7,"size":110,"opacity":1,"clip":true}},{"mark":{"type":"point","filled":false,"stroke":"#777777","strokeWidth":0.7,"size":40,"opacity":1,"clip":true}}]},
{"width":200,"height":200,"data":{"name":"ctr"},"encoding":{"x":{"field":"tein","type":"quantitative","scale":{"domain":[1.8233,1.8775]},"axis":{"values":[1.83,1.845,1.86,1.875],"labels":false,"title":null}},"y":{"field":"ym","type":"quantitative","scale":{"domain":[0.11775,0.17013]},"axis":{"values":[0.12,0.135,0.15,0.165],"labels":false,"title":null}}},"layer":[{"mark":{"type":"point","filled":true,"fill":"#111111","stroke":"#000000","strokeWidth":1,"size":320,"opacity":1,"clip":true}},{"mark":{"type":"point","filled":false,"stroke":"#777777","strokeWidth":0.7,"size":200,"opacity":1,"clip":true}},{"mark":{"type":"point","filled":false,"stroke":"#777777","strokeWidth":0.7,"size":110,"opacity":1,"clip":true}},{"mark":{"type":"point","filled":false,"stroke":"#777777","strokeWidth":0.7,"size":40,"opacity":1,"clip":true}}]},
{"width":200,"height":200,"data":{"name":"ctr"},"encoding":{"x":{"field":"e1e","type":"quantitative","scale":{"domain":[-0.0858,-0.0713]},"axis":{"values":[-0.084,-0.081,-0.078,-0.075,-0.072],"labels":false,"title":null}},"y":{"field":"ym","type":"quantitative","scale":{"domain":[0.11775,0.17013]},"axis":{"values":[0.12,0.135,0.15,0.165],"labels":false,"title":null}}},"layer":[{"mark":{"type":"point","filled":true,"fill":"#111111","stroke":"#000000","strokeWidth":1,"size":320,"opacity":1,"clip":true}},{"mark":{"type":"point","filled":false,"stroke":"#777777","strokeWidth":0.7,"size":200,"opacity":1,"clip":true}},{"mark":{"type":"point","filled":false,"stroke":"#777777","strokeWidth":0.7,"size":110,"opacity":1,"clip":true}},{"mark":{"type":"point","filled":false,"stroke":"#777777","strokeWidth":0.7,"size":40,"opacity":1,"clip":true}}]},
{"width":200,"height":200,"data":{"name":"ctr"},"encoding":{"x":{"field":"e2e","type":"quantitative","scale":{"domain":[0.13995,0.14435]},"axis":{"values":[0.14,0.141,0.142,0.143,0.144],"labels":false,"title":null}},"y":{"field":"ym","type":"quantitative","scale":{"domain":[0.11775,0.17013]},"axis":{"values":[0.12,0.135,0.15,0.165],"labels":false,"title":null}}},"layer":[{"mark":{"type":"point","filled":true,"fill":"#111111","stroke":"#000000","strokeWidth":1,"size":320,"opacity":1,"clip":true}},{"mark":{"type":"point","filled":false,"stroke":"#777777","strokeWidth":0.7,"size":200,"opacity":1,"clip":true}},{"mark":{"type":"point","filled":false,"stroke":"#777777","strokeWidth":0.7,"size":110,"opacity":1,"clip":true}},{"mark":{"type":"point","filled":false,"stroke":"#777777","strokeWidth":0.7,"size":40,"opacity":1,"clip":true}}]},
{"width":200,"height":200,"data":{"name":"ctr"},"encoding":{"x":{"field":"t1m","type":"quantitative","scale":{"domain":[0.9514,1.2626]},"axis":{"values":[0.96,1.04,1.12,1.2],"labels":false,"title":null}},"y":{"field":"ym","type":"quantitative","scale":{"domain":[0.11775,0.17013]},"axis":{"values":[0.12,0.135,0.15,0.165],"labels":false,"title":null}}},"layer":[{"mark":{"type":"point","filled":true,"fill":"#111111","stroke":"#000000","strokeWidth":1,"size":320,"opacity":1,"clip":true}},{"mark":{"type":"point","filled":false,"stroke":"#777777","strokeWidth":0.7,"size":200,"opacity":1,"clip":true}},{"mark":{"type":"point","filled":false,"stroke":"#777777","strokeWidth":0.7,"size":110,"opacity":1,"clip":true}},{"mark":{"type":"point","filled":false,"stroke":"#777777","strokeWidth":0.7,"size":40,"opacity":1,"clip":true}}]},
{"width":200,"height":200,"data":{"name":"ctr"},"encoding":{"x":{"field":"t2m","type":"quantitative","scale":{"domain":[0.3809,0.4745]},"axis":{"values":[0.4,0.42,0.44,0.46],"labels":false,"title":null}},"y":{"field":"ym","type":"quantitative","scale":{"domain":[0.11775,0.17013]},"axis":{"values":[0.12,0.135,0.15,0.165],"labels":false,"title":null}}},"layer":[{"mark":{"type":"point","filled":true,"fill":"#111111","stroke":"#000000","strokeWidth":1,"size":320,"opacity":1,"clip":true}},{"mark":{"type":"point","filled":false,"stroke":"#777777","strokeWidth":0.7,"size":200,"opacity":1,"clip":true}},{"mark":{"type":"point","filled":false,"stroke":"#777777","strokeWidth":0.7,"size":110,"opacity":1,"clip":true}},{"mark":{"type":"point","filled":false,"stroke":"#777777","strokeWidth":0.7,"size":40,"opacity":1,"clip":true}}]},
{"width":200,"height":200,"data":{"name":"ctr"},"encoding":{"x":{"field":"thb","type":"quantitative","scale":{"domain":[0.3862,0.7378]},"axis":{"values":[0.4,0.48,0.56,0.64,0.72],"labels":false,"title":null}},"y":{"field":"ym","type":"quantitative","scale":{"domain":[0.11775,0.17013]},"axis":{"values":[0.12,0.135,0.15,0.165],"labels":false,"title":null}}},"layer":[{"mark":{"type":"point","filled":true,"fill":"#111111","stroke":"#000000","strokeWidth":1,"size":320,"opacity":1,"clip":true}},{"mark":{"type":"point","filled":false,"stroke":"#777777","strokeWidth":0.7,"size":200,"opacity":1,"clip":true}},{"mark":{"type":"point","filled":false,"stroke":"#777777","strokeWidth":0.7,"size":110,"opacity":1,"clip":true}},{"mark":{"type":"point","filled":false,"stroke":"#777777","strokeWidth":0.7,"size":40,"opacity":1,"clip":true}}]},
{"width":200,"height":200,"encoding":{"x":{"field":"v","type":"quantitative","scale":{"domain":[0.11775,0.17013]},"axis":{"values":[0.12,0.135,0.15,0.165],"labels":false,"title":null}}},"layer":[{"data":{"name":"hist"},"transform":[{"filter":"datum.p==='ym'"}],"mark":{"type":"rect","color":"#666666","clip":true},"encoding":{"x2":{"field":"v2"},"y":{"field":"h","type":"quantitative","scale":{"domain":[0,1]},"axis":null},"y2":{"datum":0}}},{"data":{"name":"truth"},"transform":[{"filter":"datum.p==='ym'"}],"mark":{"type":"rule","color":"black","strokeWidth":4.5,"strokeDash":[10,3.5],"clip":true},"encoding":{}}]},
{"width":200,"height":200,"data":{"values":[]},"mark":"point","view":{"stroke":null}},

{"width":200,"height":200,"data":{"name":"ctr"},"encoding":{"x":{"field":"e1m","type":"quantitative","scale":{"domain":[0.0519,0.0746]},"axis":{"values":[0.055,0.06,0.065,0.07],"format":".3f","title":"ε₁ᵐᵃˢˢ"}},"y":{"field":"xm","type":"quantitative","scale":{"domain":[0.05134,0.08336]},"axis":{"values":[0.056,0.064,0.072,0.08],"format":".3f","title":"xᵐᵃˢˢ"}}},"layer":[{"mark":{"type":"point","filled":true,"fill":"#111111","stroke":"#000000","strokeWidth":1,"size":320,"opacity":1,"clip":true}},{"mark":{"type":"point","filled":false,"stroke":"#777777","strokeWidth":0.7,"size":200,"opacity":1,"clip":true}},{"mark":{"type":"point","filled":false,"stroke":"#777777","strokeWidth":0.7,"size":110,"opacity":1,"clip":true}},{"mark":{"type":"point","filled":false,"stroke":"#777777","strokeWidth":0.7,"size":40,"opacity":1,"clip":true}}]},
{"width":200,"height":200,"data":{"name":"ctr"},"encoding":{"x":{"field":"e2m","type":"quantitative","scale":{"domain":[-0.0007,0.0045]},"axis":{"values":[0,0.0015,0.003,0.0045],"format":".4f","title":"ε₂ᵐᵃˢˢ"}},"y":{"field":"xm","type":"quantitative","scale":{"domain":[0.05134,0.08336]},"axis":{"values":[0.056,0.064,0.072,0.08],"labels":false,"title":null}}},"layer":[{"mark":{"type":"point","filled":true,"fill":"#111111","stroke":"#000000","strokeWidth":1,"size":320,"opacity":1,"clip":true}},{"mark":{"type":"point","filled":false,"stroke":"#777777","strokeWidth":0.7,"size":200,"opacity":1,"clip":true}},{"mark":{"type":"point","filled":false,"stroke":"#777777","strokeWidth":0.7,"size":110,"opacity":1,"clip":true}},{"mark":{"type":"point","filled":false,"stroke":"#777777","strokeWidth":0.7,"size":40,"opacity":1,"clip":true}}]},
{"width":200,"height":200,"data":{"name":"ctr"},"encoding":{"x":{"field":"tein","type":"quantitative","scale":{"domain":[1.8233,1.8775]},"axis":{"values":[1.83,1.845,1.86,1.875],"format":".3f","title":"θₑᵢₙᵐᵃˢˢ"}},"y":{"field":"xm","type":"quantitative","scale":{"domain":[0.05134,0.08336]},"axis":{"values":[0.056,0.064,0.072,0.08],"labels":false,"title":null}}},"layer":[{"mark":{"type":"point","filled":true,"fill":"#111111","stroke":"#000000","strokeWidth":1,"size":320,"opacity":1,"clip":true}},{"mark":{"type":"point","filled":false,"stroke":"#777777","strokeWidth":0.7,"size":200,"opacity":1,"clip":true}},{"mark":{"type":"point","filled":false,"stroke":"#777777","strokeWidth":0.7,"size":110,"opacity":1,"clip":true}},{"mark":{"type":"point","filled":false,"stroke":"#777777","strokeWidth":0.7,"size":40,"opacity":1,"clip":true}}]},
{"width":200,"height":200,"data":{"name":"ctr"},"encoding":{"x":{"field":"e1e","type":"quantitative","scale":{"domain":[-0.0858,-0.0713]},"axis":{"values":[-0.084,-0.081,-0.078,-0.075,-0.072],"format":".3f","title":"ε₁ᵉˣᵗ"}},"y":{"field":"xm","type":"quantitative","scale":{"domain":[0.05134,0.08336]},"axis":{"values":[0.056,0.064,0.072,0.08],"labels":false,"title":null}}},"layer":[{"mark":{"type":"point","filled":true,"fill":"#111111","stroke":"#000000","strokeWidth":1,"size":320,"opacity":1,"clip":true}},{"mark":{"type":"point","filled":false,"stroke":"#777777","strokeWidth":0.7,"size":200,"opacity":1,"clip":true}},{"mark":{"type":"point","filled":false,"stroke":"#777777","strokeWidth":0.7,"size":110,"opacity":1,"clip":true}},{"mark":{"type":"point","filled":false,"stroke":"#777777","strokeWidth":0.7,"size":40,"opacity":1,"clip":true}}]},
{"width":200,"height":200,"data":{"name":"ctr"},"encoding":{"x":{"field":"e2e","type":"quantitative","scale":{"domain":[0.13995,0.14435]},"axis":{"values":[0.14,0.141,0.142,0.143,0.144],"format":".3f","title":"ε₂ᵉˣᵗ"}},"y":{"field":"xm","type":"quantitative","scale":{"domain":[0.05134,0.08336]},"axis":{"values":[0.056,0.064,0.072,0.08],"labels":false,"title":null}}},"layer":[{"mark":{"type":"point","filled":true,"fill":"#111111","stroke":"#000000","strokeWidth":1,"size":320,"opacity":1,"clip":true}},{"mark":{"type":"point","filled":false,"stroke":"#777777","strokeWidth":0.7,"size":200,"opacity":1,"clip":true}},{"mark":{"type":"point","filled":false,"stroke":"#777777","strokeWidth":0.7,"size":110,"opacity":1,"clip":true}},{"mark":{"type":"point","filled":false,"stroke":"#777777","strokeWidth":0.7,"size":40,"opacity":1,"clip":true}}]},
{"width":200,"height":200,"data":{"name":"ctr"},"encoding":{"x":{"field":"t1m","type":"quantitative","scale":{"domain":[0.9514,1.2626]},"axis":{"values":[0.96,1.04,1.12,1.2],"format":".2f","title":"t₁ᵐᵃˢˢ"}},"y":{"field":"xm","type":"quantitative","scale":{"domain":[0.05134,0.08336]},"axis":{"values":[0.056,0.064,0.072,0.08],"labels":false,"title":null}}},"layer":[{"mark":{"type":"point","filled":true,"fill":"#111111","stroke":"#000000","strokeWidth":1,"size":320,"opacity":1,"clip":true}},{"mark":{"type":"point","filled":false,"stroke":"#777777","strokeWidth":0.7,"size":200,"opacity":1,"clip":true}},{"mark":{"type":"point","filled":false,"stroke":"#777777","strokeWidth":0.7,"size":110,"opacity":1,"clip":true}},{"mark":{"type":"point","filled":false,"stroke":"#777777","strokeWidth":0.7,"size":40,"opacity":1,"clip":true}}]},
{"width":200,"height":200,"data":{"name":"ctr"},"encoding":{"x":{"field":"t2m","type":"quantitative","scale":{"domain":[0.3809,0.4745]},"axis":{"values":[0.4,0.42,0.44,0.46],"format":".2f","title":"t₂ᵐᵃˢˢ"}},"y":{"field":"xm","type":"quantitative","scale":{"domain":[0.05134,0.08336]},"axis":{"values":[0.056,0.064,0.072,0.08],"labels":false,"title":null}}},"layer":[{"mark":{"type":"point","filled":true,"fill":"#111111","stroke":"#000000","strokeWidth":1,"size":320,"opacity":1,"clip":true}},{"mark":{"type":"point","filled":false,"stroke":"#777777","strokeWidth":0.7,"size":200,"opacity":1,"clip":true}},{"mark":{"type":"point","filled":false,"stroke":"#777777","strokeWidth":0.7,"size":110,"opacity":1,"clip":true}},{"mark":{"type":"point","filled":false,"stroke":"#777777","strokeWidth":0.7,"size":40,"opacity":1,"clip":true}}]},
{"width":200,"height":200,"data":{"name":"ctr"},"encoding":{"x":{"field":"thb","type":"quantitative","scale":{"domain":[0.3862,0.7378]},"axis":{"values":[0.4,0.48,0.56,0.64,0.72],"format":".2f","title":"θʙᵐᵃˢˢ"}},"y":{"field":"xm","type":"quantitative","scale":{"domain":[0.05134,0.08336]},"axis":{"values":[0.056,0.064,0.072,0.08],"labels":false,"title":null}}},"layer":[{"mark":{"type":"point","filled":true,"fill":"#111111","stroke":"#000000","strokeWidth":1,"size":320,"opacity":1,"clip":true}},{"mark":{"type":"point","filled":false,"stroke":"#777777","strokeWidth":0.7,"size":200,"opacity":1,"clip":true}},{"mark":{"type":"point","filled":false,"stroke":"#777777","strokeWidth":0.7,"size":110,"opacity":1,"clip":true}},{"mark":{"type":"point","filled":false,"stroke":"#777777","strokeWidth":0.7,"size":40,"opacity":1,"clip":true}}]},
{"width":200,"height":200,"data":{"name":"ctr"},"encoding":{"x":{"field":"ym","type":"quantitative","scale":{"domain":[0.11775,0.17013]},"axis":{"values":[0.12,0.135,0.15,0.165],"format":".3f","title":"yᵐᵃˢˢ"}},"y":{"field":"xm","type":"quantitative","scale":{"domain":[0.05134,0.08336]},"axis":{"values":[0.056,0.064,0.072,0.08],"labels":false,"title":null}}},"layer":[{"mark":{"type":"point","filled":true,"fill":"#111111","stroke":"#000000","strokeWidth":1,"size":320,"opacity":1,"clip":true}},{"mark":{"type":"point","filled":false,"stroke":"#777777","strokeWidth":0.7,"size":200,"opacity":1,"clip":true}},{"mark":{"type":"point","filled":false,"stroke":"#777777","strokeWidth":0.7,"size":110,"opacity":1,"clip":true}},{"mark":{"type":"point","filled":false,"stroke":"#777777","strokeWidth":0.7,"size":40,"opacity":1,"clip":true}}]},
{"width":200,"height":200,"encoding":{"x":{"field":"v","type":"quantitative","scale":{"domain":[0.05134,0.08336]},"axis":{"values":[0.056,0.064,0.072,0.08],"format":".3f","title":"xᵐᵃˢˢ"}}},"layer":[{"data":{"name":"hist"},"transform":[{"filter":"datum.p==='xm'"}],"mark":{"type":"rect","color":"#666666","clip":true},"encoding":{"x2":{"field":"v2"},"y":{"field":"h","type":"quantitative","scale":{"domain":[0,1]},"axis":null},"y2":{"datum":0}}},{"data":{"name":"truth"},"transform":[{"filter":"datum.p==='xm'"}],"mark":{"type":"rule","color":"black","strokeWidth":4.5,"strokeDash":[10,3.5],"clip":true},"encoding":{}}]}
],
"config":{"view":{"stroke":"#000000","strokeWidth":1.2},"axis":{"grid":false,"domain":false,"ticks":true,"tickColor":"#000000","tickSize":5,"tickWidth":1,"labelFont":"DejaVu Sans","labelFontSize":14,"labelColor":"#000000","titleFont":"DejaVu Sans","titleFontSize":17,"titleFontWeight":"normal","titleColor":"#000000","labelOverlap":false,"labelFlush":false,"labelBound":false},"axisX":{"labelAngle":-45,"labelAlign":"center","labelBaseline":"middle","labelPadding":29,"titleX":100,"titleY":68,"titleBaseline":"middle","titleAlign":"center","titleAngle":0},"axisY":{"labelAngle":-45,"labelAlign":"right","labelBaseline":"middle","labelPadding":4,"titleX":-71,"titleY":100,"titleBaseline":"middle","titleAlign":"center","titleAngle":-90}}
}
